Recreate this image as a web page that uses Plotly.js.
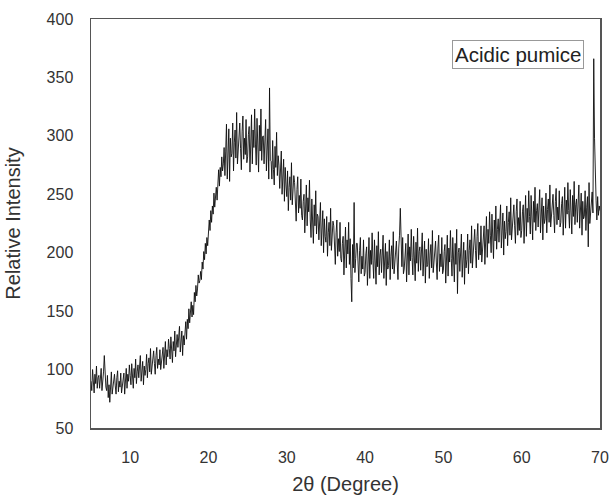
<!DOCTYPE html>
<html>
<head>
<meta charset="utf-8">
<script src="https://cdn.plot.ly/plotly-3.0.1.min.js"></script>
<style>html,body{margin:0;padding:0;background:#fff;}#chart{width:610px;height:495px;}</style>
</head>
<body>
<div id="chart"></div>
<script>
// 2θ sampling: start, step (degrees)
var thetaStart = 5.0;
var thetaStep = 0.1;
// Relative intensity, 10 readings per degree (5.0 ... 69.9) plus 70.0
var intensity05_16 = [
  90,82,100,86,80,96,88,103,84,93,
  95,84,92,101,82,89,98,112,93,85,
  82,95,76,87,72,81,98,79,85,93,
  96,86,79,93,99,81,90,85,97,80,
  86,94,97,79,93,101,84,96,90,104,
  95,87,105,91,84,101,93,109,88,98,
  104,93,101,112,90,96,107,87,103,95,
  100,113,93,105,110,98,118,96,103,111,
  116,105,96,112,119,101,109,104,117,100,
  106,116,119,101,115,124,104,117,111,126,
  118,109,128,114,106,124,116,133,111,121,
  130,119,127,137,115,124,133,112,129,121
];
var intensity17_27 = [
  130,141,126,143,135,152,140,147,158,145,
  155,147,166,158,172,163,169,181,174,176,
  184,177,192,186,201,194,208,199,213,206,
  215,228,219,236,226,240,233,251,239,247,
  256,245,262,271,257,273,265,282,270,276,
  290,266,287,310,263,283,306,261,298,282,
  285,311,270,294,305,281,320,276,291,306,
  311,289,271,304,317,280,298,284,314,277,
  282,301,308,269,300,318,276,305,290,323,
  293,275,315,285,269,309,287,323,279,299,
  300,276,294,314,270,285,306,263,341,279
];
var intensity28_48 = [
  278,263,296,271,258,291,273,303,266,283,
  275,255,270,287,250,263,280,244,273,258,
  248,270,236,256,265,245,277,241,253,266,
  260,242,227,254,265,234,249,238,263,232,
  228,244,250,217,243,258,223,247,235,262,
  228,213,246,221,208,241,223,253,216,233,
  231,211,226,243,206,219,236,200,229,214,
  209,231,197,217,226,206,238,202,214,227,
  223,205,190,217,228,197,212,201,226,195,
  192,208,214,181,207,222,187,211,199,226,
  190,212,178,158,207,187,243,183,195,208,
  208,190,175,202,213,182,197,186,211,180,
  183,199,205,172,198,213,178,202,190,217,
  193,178,211,186,173,206,188,218,181,198,
  203,183,198,215,178,191,208,172,201,186,
  189,211,177,197,206,186,218,182,194,207,
  210,192,177,204,215,238,199,188,213,182,
  186,202,208,175,201,216,181,205,193,220,
  196,181,214,189,176,209,191,221,184,201,
  205,185,200,217,180,193,210,174,203,188,
  190,212,178,198,207,187,219,183,195,208
];
var intensity49_70 = [
  210,192,177,204,215,184,199,188,213,182,
  185,201,207,174,200,215,180,204,192,219,
  195,180,213,188,175,208,190,220,165,200,
  204,184,199,216,179,192,209,173,202,187,
  194,216,182,202,211,191,223,187,199,212,
  220,202,187,214,225,194,209,198,223,192,
  201,217,223,190,216,231,196,220,208,235,
  215,200,233,208,195,228,210,240,203,220,
  229,209,224,241,204,217,234,198,227,212,
  218,240,206,226,235,215,247,211,223,236,
  241,223,208,235,246,215,230,219,244,213,
  219,235,241,208,234,249,214,238,226,253,
  231,216,249,224,211,244,226,256,219,236,
  242,222,237,254,217,230,247,211,240,225,
  229,251,217,237,246,226,258,222,234,247,
  250,232,217,244,255,224,239,228,253,222,
  226,242,248,215,241,256,221,245,233,260,
  236,221,254,229,216,249,231,261,224,241,
  246,226,241,258,221,234,251,215,244,229,
  231,253,219,239,248,205,260,225,236,249,
  252,234,366,298,262,245,228,248,232,240,
  236
];
var xTicks = [10, 20, 30, 40, 50, 60, 70];
var yTicks = [50, 100, 150, 200, 250, 300, 350, 400];
var sampleLabel = "Acidic pumice";

var yVals = intensity05_16.concat(intensity17_27, intensity28_48, intensity49_70);
var xVals = yVals.map(function (v, i) { return +(thetaStart + i * thetaStep).toFixed(1); });

var trace = {
  x: xVals, y: yVals, type: 'scatter', mode: 'lines',
  line: {color: '#0d0d0d', width: 0.9},
  name: sampleLabel, showlegend: false, hoverinfo: 'x+y'
};

var axisFont = {family: 'Arial, Liberation Sans, sans-serif', size: 16, color: '#333'};
var titleFont = {family: 'Arial, Liberation Sans, sans-serif', size: 20, color: '#333'};

var layout = {
  width: 610, height: 495,
  margin: {l: 91, r: 10, t: 19, b: 67, pad: 0},
  paper_bgcolor: '#fff', plot_bgcolor: '#fff',
  xaxis: {
    range: [5, 70], tickvals: xTicks, ticktext: xTicks.map(String),
    showgrid: false, zeroline: false, showline: true, mirror: true,
    linecolor: '#555', linewidth: 1.5, ticks: '', ticklabelstandoff: 14,
    tickfont: axisFont,
    title: {text: '2θ (Degree)', font: titleFont, standoff: 14}
  },
  yaxis: {
    range: [50, 400], tickvals: yTicks, ticktext: yTicks.map(String),
    showgrid: false, zeroline: false, showline: true, mirror: true,
    linecolor: '#555', linewidth: 1.5, ticks: '', ticklabelstandoff: 13,
    tickfont: axisFont,
    title: {text: 'Relative Intensity', font: titleFont, standoff: 20}
  },
  annotations: [{
    xref: 'paper', yref: 'paper', x: 0.9686, y: 0.9487,
    xanchor: 'right', yanchor: 'top', showarrow: false,
    text: sampleLabel, font: {family: 'Arial, Liberation Sans, sans-serif', size: 20.5, color: '#222'},
    bordercolor: '#999', borderwidth: 1, borderpad: 2, bgcolor: '#fff'
  }]
};

Plotly.newPlot('chart', [trace], layout, {staticPlot: true, displayModeBar: false});
</script>
</body>
</html>
